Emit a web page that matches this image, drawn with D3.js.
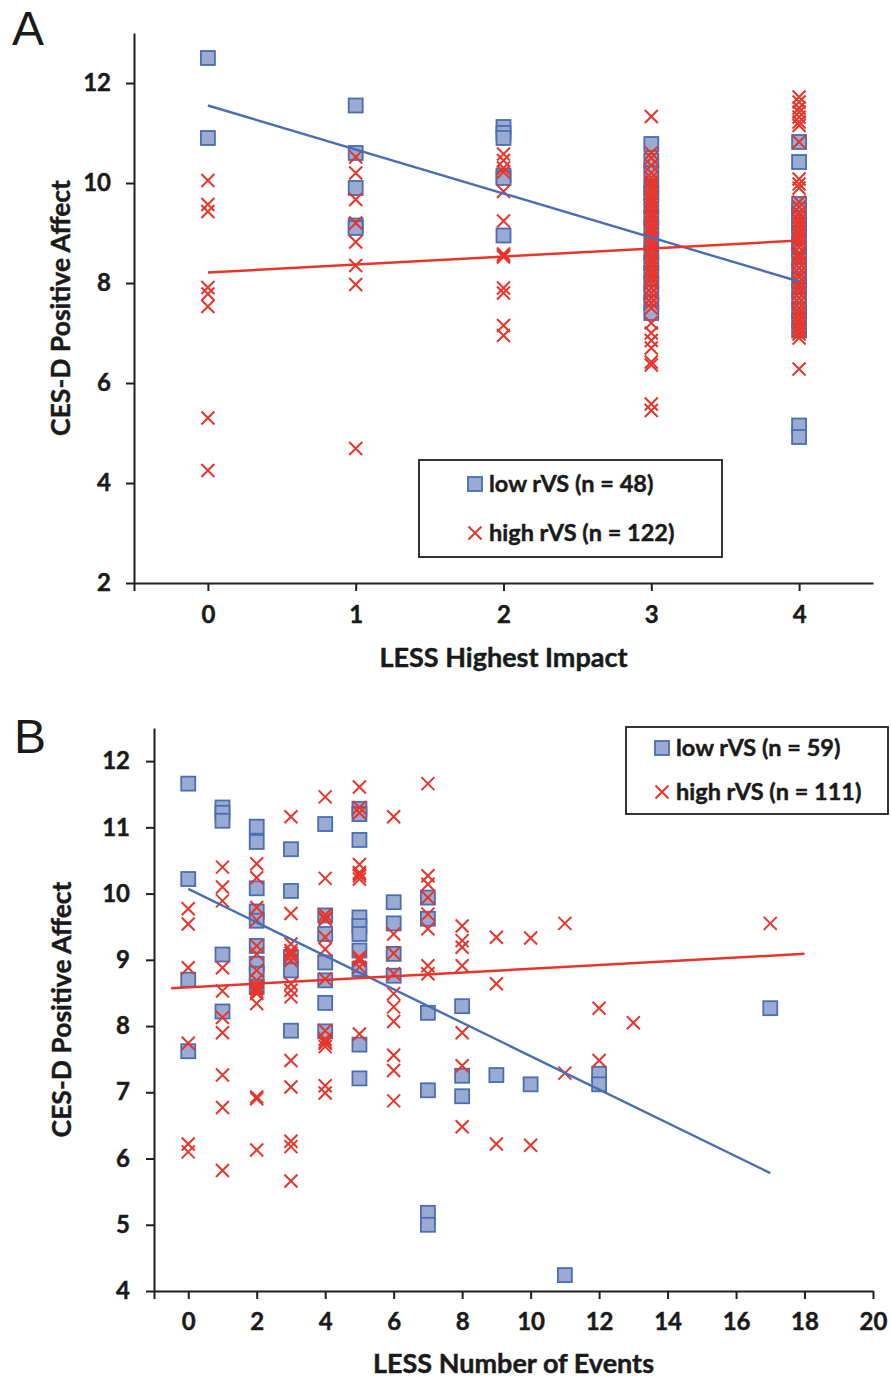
<!doctype html>
<html>
<head>
<meta charset="utf-8">
<script src="https://cdn.jsdelivr.net/npm/d3@7"></script>
<style>
body { margin: 0; background: #fff; }
svg text { font-family: Lato, "Open Sans", sans-serif; fill: #1a1a1a; }
</style>
</head>
<body>
<svg id="chart" width="891" height="1379"></svg>
<script>
// ---- data: panel A, LESS Highest Impact ----
var impactLow = [
  [0,12.5],[0,10.9],
  [1,11.55],[1,10.6],[1,9.9],[1,9.15],[1,9.1],
  [2,11.12],[2,11.0],[2,10.9],[2,10.15],[2,10.1],[2,8.95],
  [3,10.78],[3,10.45],[3,10.2],[3,9.9],[3,9.8],[3,9.55],[3,9.3],[3,9.1],[3,8.85],[3,8.6],
  [3,8.4],[3,8.2],[3,8.0],[3,7.8],[3,7.6],[3,7.4],
  [4,10.82],[4,10.42],[4,9.58],[4,9.45],[4,9.3],[4,9.15],[4,9.0],[4,8.8],[4,8.65],[4,8.45],
  [4,8.25],[4,8.05],[4,7.85],[4,7.65],[4,7.45],[4,7.25],[4,7.05],[4,5.15],[4,4.92]
];
var impactHigh = [
  [0,10.05],[0,9.57],[0,9.43],[0,7.91],[0,7.78],[0,7.53],[0,5.3],[0,4.25],
  [1,10.52],[1,10.2],[1,9.67],[1,9.2],[1,8.82],[1,8.35],[1,7.97],[1,4.69],
  [2,10.58],[2,10.45],[2,10.3],[2,10.22],[2,9.83],[2,9.24],[2,8.58],[2,8.55],[2,8.52],[2,7.9],
  [2,7.8],[2,7.15],[2,6.95],
  [3,11.33],[3,10.6],[3,10.5],[3,10.35],[3,10.2],[3,10.1],[3,10.02],[3,9.95],[3,9.88],[3,9.8],
  [3,9.72],[3,9.65],[3,9.58],[3,9.5],[3,9.42],[3,9.35],[3,9.28],[3,9.2],[3,9.12],[3,9.05],
  [3,8.98],[3,8.9],[3,8.82],[3,8.75],[3,8.68],[3,8.6],[3,8.52],[3,8.45],[3,8.38],[3,8.3],
  [3,8.22],[3,8.15],[3,8.08],[3,8.0],[3,7.9],[3,7.8],[3,7.7],[3,7.6],[3,7.5],[3,7.2],
  [3,7.0],[3,6.85],[3,6.7],[3,6.42],[3,6.36],[3,5.58],[3,5.45],
  [4,11.72],[4,11.62],[4,11.5],[4,11.42],[4,11.32],[4,11.22],[4,11.15],[4,10.82],[4,10.08],[4,9.98],
  [4,9.9],[4,9.62],[4,9.52],[4,9.4],[4,9.33],[4,9.25],[4,9.18],[4,9.1],[4,9.02],[4,8.95],
  [4,8.88],[4,8.8],[4,8.72],[4,8.6],[4,8.55],[4,8.48],[4,8.4],[4,8.3],[4,8.2],[4,8.12],
  [4,8.02],[4,7.95],[4,7.88],[4,7.8],[4,7.7],[4,7.6],[4,7.5],[4,7.42],[4,7.35],[4,7.27],
  [4,7.2],[4,7.12],[4,7.05],[4,6.98],[4,6.9],[4,6.28]
];
var impactLowFit = [[0,11.55],[4,8.03]];
var impactHighFit = [[0,8.21],[4,8.85]];
var impactXTicks = [-0.5,0,1,2,3,4];
var impactYTicks = [2,4,6,8,10,12];

// ---- data: panel B, LESS Number of Events ----
var eventsLow = [
  [0,11.66],[0,10.22],[0,8.7],[0,7.62],
  [1,11.3],[1,11.22],[1,11.1],[1,9.08],[1,8.22],
  [2,11.01],[2,10.78],[2,10.08],[2,9.73],[2,9.59],[2,9.21],[2,8.94],[2,8.79],[2,8.59],
  [3,10.67],[3,10.04],[3,9.04],[3,8.84],[3,7.93],
  [4,11.05],[4,9.67],[4,9.39],[4,8.96],[4,8.69],[4,8.35],[4,7.92],
  [5,11.28],[5,11.2],[5,10.81],[5,9.64],[5,9.51],[5,9.39],[5,9.14],[5,8.86],[5,7.72],[5,7.21],
  [6,9.87],[6,9.55],[6,9.09],[6,8.76],
  [7,9.94],[7,9.62],[7,8.2],[7,7.03],[7,5.18],[7,5.0],
  [8,8.3],[8,7.25],[8,6.94],
  [9,7.26],[10,7.12],[11,4.24],[12,7.28],[12,7.12],[17,8.27]
];
var eventsHigh = [
  [0,9.77],[0,9.54],[0,8.88],[0,7.74],[0,6.22],[0,6.1],
  [1,10.4],[1,10.1],[1,9.89],[1,8.88],[1,8.53],[1,8.13],[1,7.9],[1,7.26],[1,6.77],[1,5.82],
  [2,10.45],[2,10.24],[2,9.79],[2,9.6],[2,9.21],[2,9.09],[2,8.84],[2,8.69],[2,8.6],[2,8.56],
  [2,8.52],[2,8.49],[2,8.34],[2,6.93],[2,6.9],[2,6.13],
  [3,11.16],[3,9.7],[3,9.24],[3,9.14],[3,9.1],[3,9.06],[3,8.99],[3,8.64],[3,8.54],[3,8.44],
  [3,7.48],[3,7.08],[3,6.26],[3,6.18],[3,5.66],
  [4,11.46],[4,10.23],[4,9.68],[4,9.63],[4,9.61],[4,9.34],[4,9.16],[4,8.71],[4,7.93],[4,7.8],
  [4,7.76],[4,7.74],[4,7.69],[4,7.1],[4,6.99],
  [5,11.61],[5,11.3],[5,11.22],[5,10.44],[5,10.32],[5,10.3],[5,10.27],[5,10.22],[5,9.04],[5,9.0],
  [5,8.99],[5,8.89],[5,7.88],
  [6,11.16],[6,9.39],[6,9.1],[6,8.79],[6,8.49],[6,8.29],[6,8.07],[6,7.56],[6,7.33],[6,6.87],
  [7,11.66],[7,10.27],[7,10.14],[7,9.94],[7,9.69],[7,9.47],[7,8.91],[7,8.79],
  [8,9.51],[8,9.29],[8,9.19],[8,8.91],[8,7.9],[8,7.4],[8,6.48],
  [9,9.34],[9,8.64],[9,6.22],
  [10,9.33],[10,6.2],
  [11,9.55],[11,7.29],
  [12,8.27],[12,7.48],
  [13,8.05],
  [17,9.55]
];
var eventsLowFit = [[0,10.07],[17,5.78]];
var eventsHighFit = [[-0.5,8.57],[18,9.09]];
var eventsXTicks = [-1,0,2,4,6,8,10,12,14,16,18,20];
var eventsYTicks = [4,5,6,7,8,9,10,11,12];

var blueFill = "#9aabd3", blueStroke = "#4a6db3", red = "#e8352b", axisColor = "#1f1f1f";

var svg = d3.select("#chart");
svg.append("rect").attr("width", 891).attr("height", 1379).attr("fill", "#fff");

// heavier bold text, closer to the original's Calibri Bold
function boldText(sel, size) {
  return sel.style("font-family", "Lato, 'Open Sans', sans-serif")
    .style("font-weight", "bold").style("font-size", size + "px")
    .attr("fill", "#1a1a1a").attr("stroke", "#1a1a1a").attr("stroke-width", 0.45);
}

function drawPanel(p) {
  var x = d3.scaleLinear().domain(p.xDomain).range([p.left, p.right]);
  var y = d3.scaleLinear().domain(p.yDomain).range([p.bottom, p.top]);
  var g = svg.append("g");

  // axes
  var yAxis = g.append("g")
    .attr("transform", "translate(" + p.left + ",0)")
    .call(d3.axisLeft(y).tickValues(p.yTicks).tickSize(8).tickSizeOuter(0).tickPadding(p.yPad));
  var xAxis = g.append("g")
    .attr("transform", "translate(0," + p.bottom + ")")
    .call(d3.axisBottom(x).tickValues(p.xTicks).tickSize(8).tickSizeOuter(0).tickPadding(p.xPad)
      .tickFormat(function(d) { return d < 0 ? "" : d; }));
  [yAxis, xAxis].forEach(function(a) {
    a.selectAll("path, line").attr("stroke", axisColor).attr("stroke-width", 2);
    boldText(a.selectAll("text"), 24);
  });

  // squares (low rVS)
  g.append("g").selectAll("rect")
    .data(p.low).enter().append("rect")
    .attr("x", function(d) { return x(d[0]) - 7; })
    .attr("y", function(d) { return y(d[1]) - 7; })
    .attr("width", 14).attr("height", 14)
    .attr("fill", blueFill).attr("stroke", blueStroke).attr("stroke-width", 1.8);

  // crosses (high rVS)
  g.append("g").selectAll("path")
    .data(p.high).enter().append("path")
    .attr("d", function(d) {
      var cx = x(d[0]), cy = y(d[1]), r = 6.5;
      return "M" + (cx - r) + "," + (cy - r) + "L" + (cx + r) + "," + (cy + r) +
             "M" + (cx - r) + "," + (cy + r) + "L" + (cx + r) + "," + (cy - r);
    })
    .attr("stroke", red).attr("stroke-width", 2).attr("fill", "none");

  // trend lines
  var line = d3.line().x(function(d) { return x(d[0]); }).y(function(d) { return y(d[1]); });
  g.append("path").datum(p.lowFit).attr("d", line)
    .attr("stroke", blueStroke).attr("stroke-width", 2.4).attr("fill", "none");
  g.append("path").datum(p.highFit).attr("d", line)
    .attr("stroke", red).attr("stroke-width", 2.5).attr("fill", "none");

  // axis titles
  boldText(g.append("text"), 27)
    .attr("x", (p.left + p.right) / 2).attr("y", p.xTitleY)
    .attr("text-anchor", "middle")
    .text(p.xTitle);
  boldText(g.append("text"), 26.5)
    .attr("transform", "translate(" + p.yTitleX + "," + ((p.top + p.bottom) / 2) + ") rotate(-90)")
    .attr("text-anchor", "middle")
    .text("CES-D Positive Affect");

  // panel letter
  g.append("text")
    .attr("x", p.letterX).attr("y", p.letterY)
    .style("font-family", "'Liberation Sans', Arial, sans-serif")
    .style("font-size", "48px")
    .text(p.letter);

  // legend
  var lg = g.append("g");
  lg.append("rect")
    .attr("x", p.legend.x).attr("y", p.legend.y)
    .attr("width", p.legend.w).attr("height", p.legend.h)
    .attr("fill", "#fff").attr("stroke", axisColor).attr("stroke-width", 1.8);
  var mx = p.legend.mx;
  lg.append("rect")
    .attr("x", mx - 7).attr("y", p.legend.row1 - 7).attr("width", 14).attr("height", 14)
    .attr("fill", blueFill).attr("stroke", blueStroke).attr("stroke-width", 1.8);
  lg.append("path")
    .attr("d", "M" + (mx - 6.5) + "," + (p.legend.row2 - 6.5) + "L" + (mx + 6.5) + "," + (p.legend.row2 + 6.5) +
               "M" + (mx - 6.5) + "," + (p.legend.row2 + 6.5) + "L" + (mx + 6.5) + "," + (p.legend.row2 - 6.5))
    .attr("stroke", red).attr("stroke-width", 2);
  [[p.legend.row1, p.legend.lowLabel], [p.legend.row2, p.legend.highLabel]].forEach(function(r) {
    boldText(lg.append("text"), 23.5)
      .attr("x", mx + 14).attr("y", r[0]).attr("dy", "0.35em")
      .text(r[1]);
  });
}

drawPanel({
  letter: "A", letterX: 12, letterY: 45,
  xDomain: [-0.5, 4.5], yDomain: [2, 13],
  left: 134, right: 873, top: 33, bottom: 583,
  xTicks: impactXTicks, yTicks: impactYTicks, xPad: 15, yPad: 15,
  low: impactLow, high: impactHigh, lowFit: impactLowFit, highFit: impactHighFit,
  xTitle: "LESS Highest Impact", xTitleY: 667, yTitleX: 70,
  legend: { x: 419, y: 460, w: 303, h: 97, mx: 475, row1: 484, row2: 533,
            lowLabel: "low rVS (n = 48)", highLabel: "high rVS (n = 122)" }
});

drawPanel({
  letter: "B", letterX: 14, letterY: 753,
  xDomain: [-1, 20], yDomain: [4, 12.5],
  left: 154, right: 873, top: 728, bottom: 1291,
  xTicks: eventsXTicks, yTicks: eventsYTicks, xPad: 14, yPad: 16,
  low: eventsLow, high: eventsHigh, lowFit: eventsLowFit, highFit: eventsHighFit,
  xTitle: "LESS Number of Events", xTitleY: 1373, yTitleX: 71,
  legend: { x: 626, y: 727, w: 262, h: 87, mx: 662, row1: 748, row2: 792,
            lowLabel: "low rVS (n = 59)", highLabel: "high rVS (n = 111)" }
});
</script>
</body>
</html>
